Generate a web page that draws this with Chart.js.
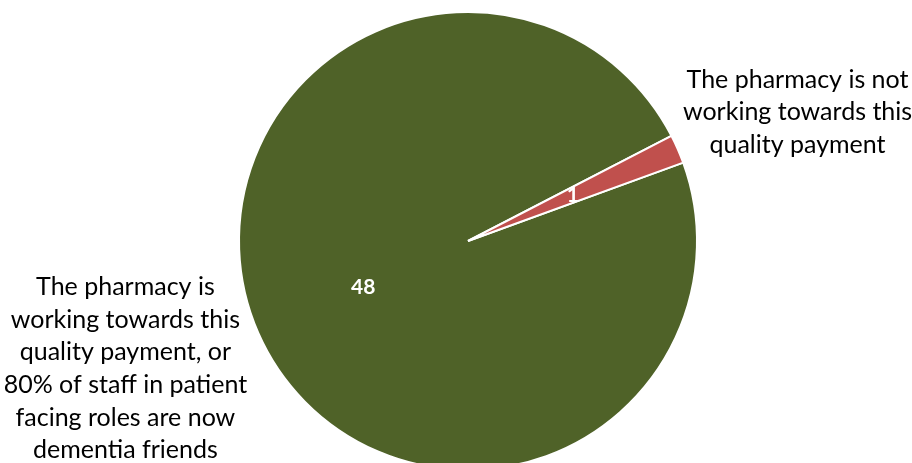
<!DOCTYPE html>
<html>
<head>
<meta charset="utf-8">
<script src="https://cdn.jsdelivr.net/npm/chart.js@4.4.1/dist/chart.umd.min.js"></script>
<style>
html,body{margin:0;padding:0;background:#fff;overflow:hidden;}
#wrap{width:912px;height:463px;overflow:hidden;position:relative;}
canvas{position:absolute;left:0;top:0;}
</style>
</head>
<body>
<div id="wrap"><canvas id="chart" width="912" height="482"></canvas></div>
<script>
const categories = [
  "The pharmacy is working towards this quality payment, or 80% of staff in patient facing roles are now dementia friends",
  "The pharmacy is not working towards this quality payment"
];
const values = [48, 1];
const colors = ["#4F6228", "#C0504D"];

// wrapped category text as shown beside the pie
const labelLines = [
  ["The pharmacy is", "working towards this", "quality payment, or", "80% of staff in patient", "facing roles are now", "dementia friends"],
  ["The pharmacy is not", "working towards this", "quality payment"]
];

const FONT = "Lato, 'Open Sans', sans-serif";

const pieLabels = {
  id: "pieLabels",
  afterDatasetsDraw(chart){
    const ctx = chart.ctx;
    const arcs = chart.getDatasetMeta(0).data;
    ctx.save();
    ctx.textAlign = "center";
    ctx.textBaseline = "middle";
    // values inside the slices
    ctx.fillStyle = "#fff";
    ctx.font = "bold 21px " + FONT;
    arcs.forEach((a, i) => {
      const p = a.getCenterPoint();
      ctx.fillText(values[i], p.x, p.y);
    });
    // category names outside
    const a0 = arcs[0];
    const cx = a0.x, cy = a0.y, r = a0.outerRadius;
    const spots = [
      {x: cx - 1.496 * r, y: cy + 0.20 * r},
      {x: cx + 1.439 * r, y: cy - 0.705 * r}
    ];
    ctx.fillStyle = "#000";
    ctx.font = "25px " + FONT;
    labelLines.forEach((lines, i) => {
      lines.forEach((t, j) => ctx.fillText(t, spots[i].x, spots[i].y + j * 32.7));
    });
    ctx.restore();
  }
};

new Chart(document.getElementById("chart"), {
  type: "pie",
  data: {
    labels: categories,
    datasets: [{
      data: values,
      backgroundColor: colors,
      borderColor: "#fff",
      borderWidth: 2
    }]
  },
  options: {
    responsive: false,
    animation: false,
    rotation: 70,
    layout: {padding: {left: 238, right: 214, top: 11, bottom: 11}},
    plugins: {legend: {display: false}, tooltip: {enabled: false}}
  },
  plugins: [pieLabels]
});
</script>
</body>
</html>
